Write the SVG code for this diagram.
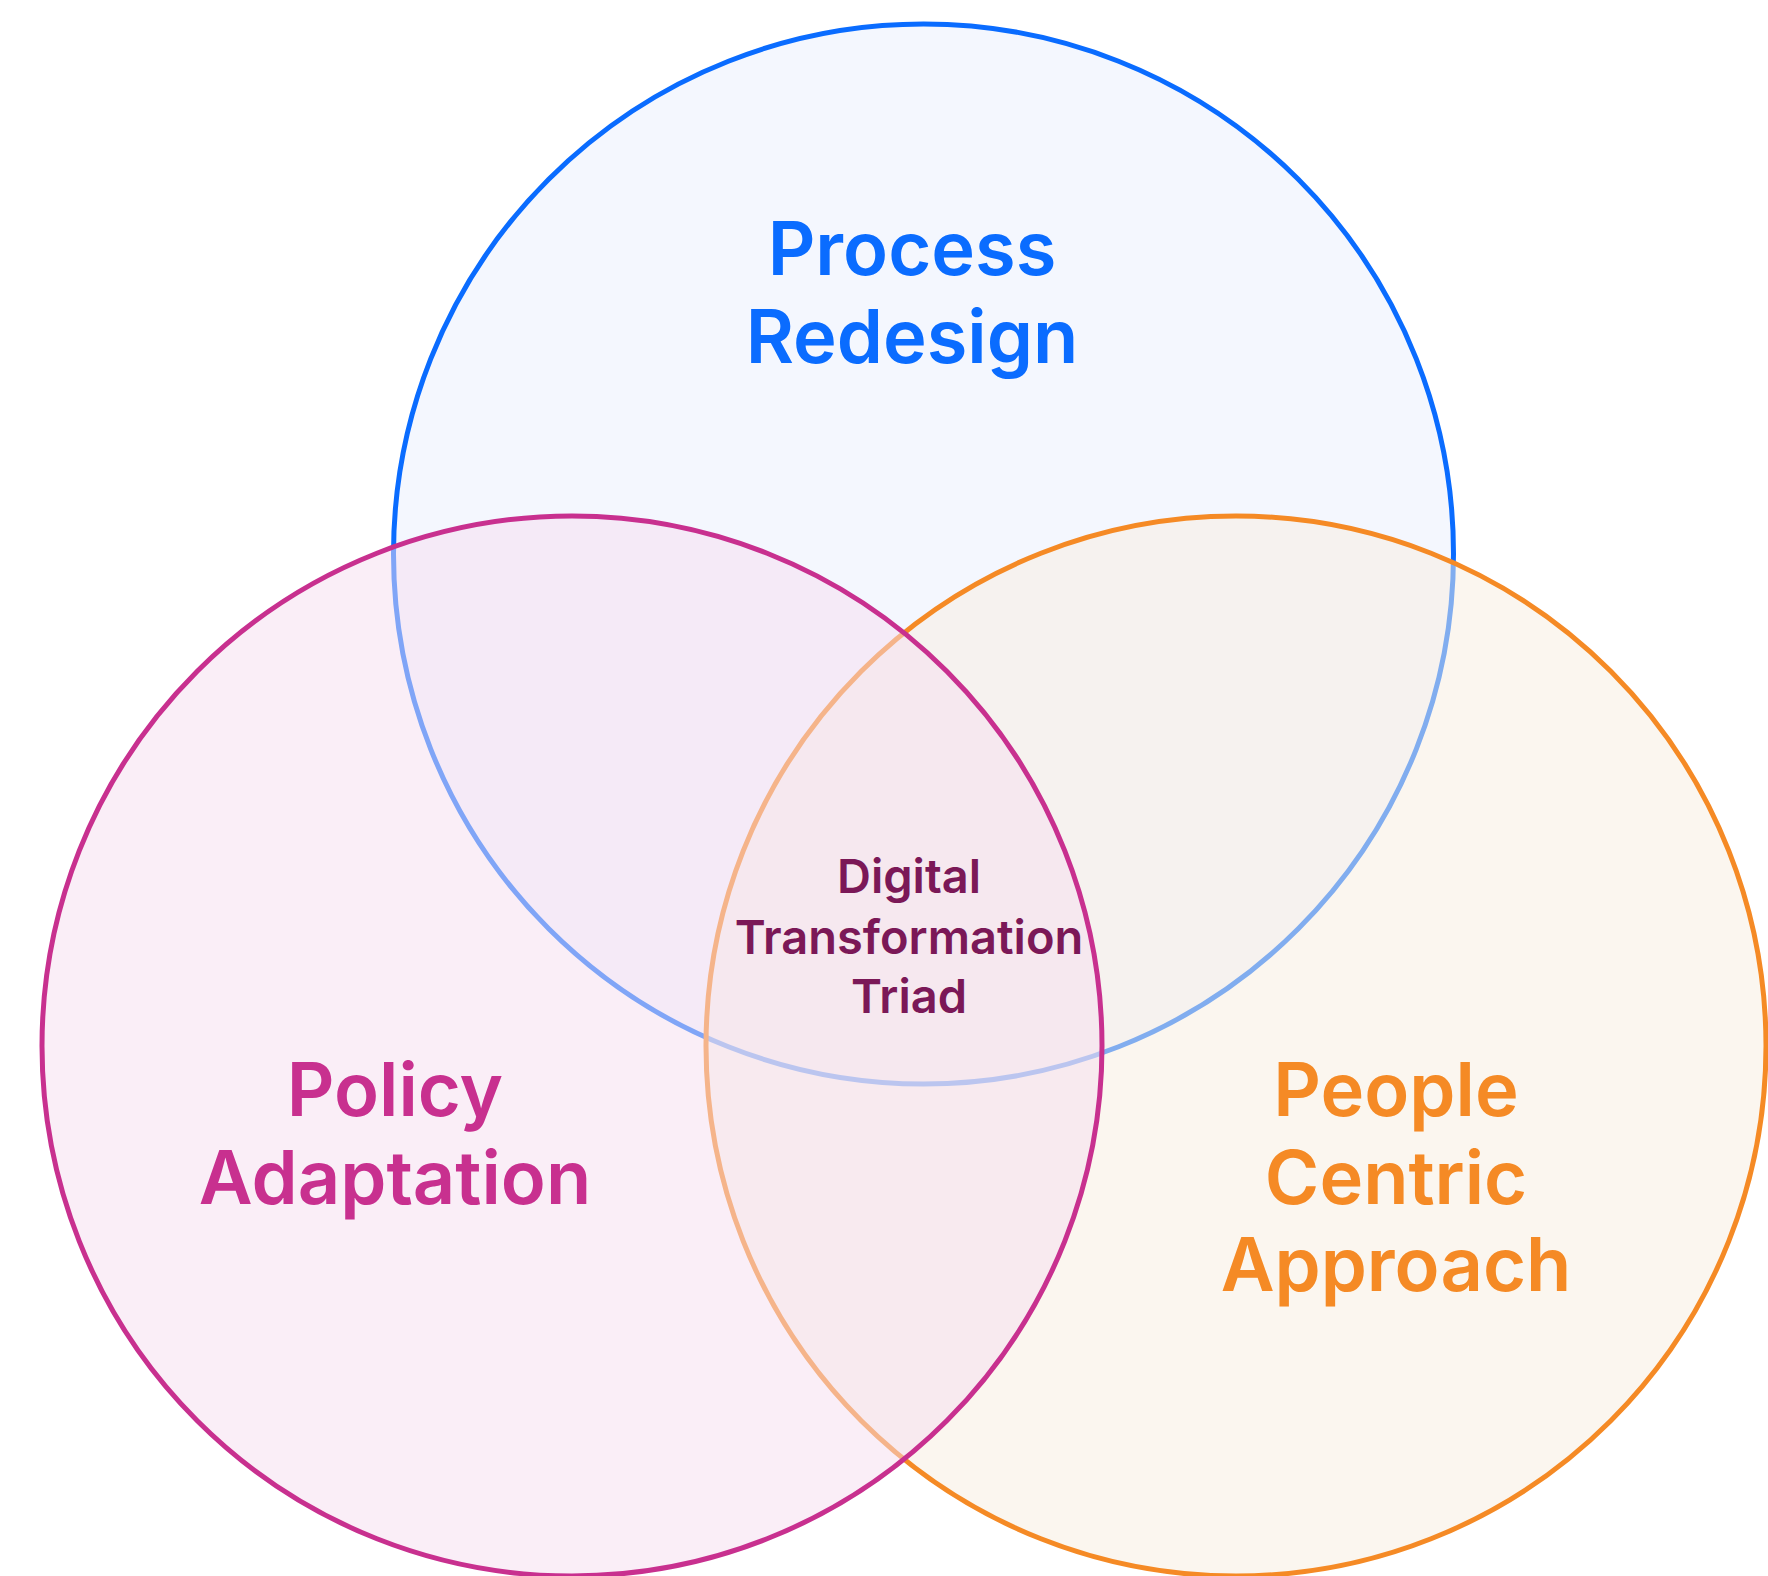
<svg xmlns="http://www.w3.org/2000/svg" width="1768" height="1576" viewBox="0 0 1768 1576">
  <style>
    .ring { stroke-width: 5; fill-opacity: 0.5; }
    .label { font-family: Inter, "Liberation Sans", sans-serif; font-weight: 600; text-anchor: middle; }
    .big { font-size: 74px; }
    .core { font-size: 47px; fill: #7B1857; }
  </style>
  <rect width="1768" height="1576" fill="#FFFFFF"/>

  <!-- Three overlapping sets; later circles tint the strokes beneath them -->
  <g id="process">
    <circle class="ring" cx="923.5" cy="554" r="530" fill="#E9EFFD" stroke="#0A6CFF"/>
  </g>
  <g id="people">
    <circle class="ring" cx="1236" cy="1046" r="530" fill="#F7EDDF" stroke="#F58A25"/>
  </g>
  <g id="policy">
    <circle class="ring" cx="572" cy="1046" r="530" fill="#F5DDEF" stroke="#C8308F"/>
  </g>

  <!-- Set labels -->
  <g id="process-label" class="label big" fill="#0A6CFF">
    <text x="912" y="275">Process</text>
    <text x="912" y="363">Redesign</text>
  </g>
  <g id="policy-label" class="label big" fill="#C8308F">
    <text x="395" y="1116">Policy</text>
    <text x="395" y="1204">Adaptation</text>
  </g>
  <g id="people-label" class="label big" fill="#F58A25">
    <text x="1396" y="1116">People</text>
    <text x="1396" y="1204">Centric</text>
    <text x="1396" y="1291">Approach</text>
  </g>

  <!-- Shared centre -->
  <g id="triad" class="label core">
    <text x="909" y="893">Digital</text>
    <text x="909" y="954">Transformation</text>
    <text x="909" y="1013">Triad</text>
  </g>
</svg>
